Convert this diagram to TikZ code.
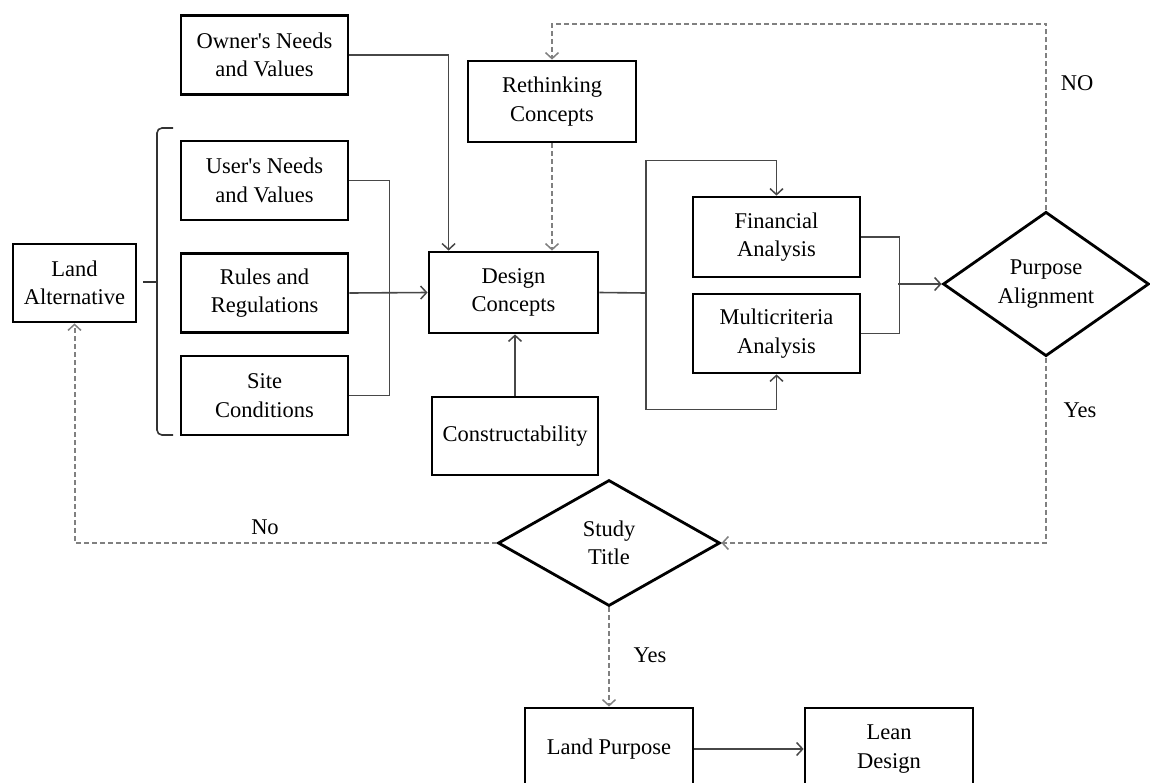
\documentclass[tikz,border=0pt]{standalone}
\usepackage{fontspec}
\setmainfont{Liberation Serif}
\usetikzlibrary{arrows.meta,shapes.geometric}
\begin{document}
\begin{tikzpicture}[x=1pt,y=-1pt,
  txt/.style={font=\fontsize{22.5}{28.5}\selectfont},
  box/.style={txt, draw=black, line width=2.8pt, minimum width=167pt, minimum height=79pt, align=center, inner sep=2pt},
  dec/.style={txt, diamond, draw=black, line width=2.8pt, minimum width=222pt, minimum height=126pt, align=center, inner sep=0pt},
  conn/.style={draw=black!72, line width=1.6pt},
  arr/.style={conn, -{Straight Barb[length=6pt,width=13pt,line width=1.5pt]}},
  dashline/.style={draw=black!50, line width=2pt, dash pattern=on 5pt off 3pt},
  darr/.style={dashline, -{Straight Barb[length=6pt,width=13pt,line width=1.5pt]}},
  lbl/.style={txt, inner sep=1pt}
]
\useasboundingbox (0,0) rectangle (1150,782);

% boxes
\node[box] (owner) at (264.5,55) {Owner\textquotesingle s Needs\\and Values};
\node[box] (user) at (264.5,180.5) {User\textquotesingle s Needs\\and Values};
\node[box] (rules) at (264.5,293) {Rules and\\Regulations};
\node[box] (site) at (264.5,395.5) {Site\\Conditions};
\node[box, minimum width=123pt, minimum height=78pt] (landalt) at (74.5,283) {Land\\Alternative};
\node[box, minimum width=169pt, minimum height=81pt] (design) at (513.5,292.5) {Design\\Concepts};
\node[box, minimum width=168pt, minimum height=81pt] (rethink) at (552,101.5) {Rethinking\\Concepts};
\node[box, minimum width=166pt, minimum height=78pt] (construct) at (515,436) {Constructability};
\node[box, minimum height=80pt] (financial) at (776.5,237) {Financial\\Analysis};
\node[box] (multi) at (776.5,333.5) {Multicriteria\\Analysis};
\node[box, minimum width=168pt, minimum height=82pt] (landpurp) at (609,749) {Land Purpose};
\node[box, minimum width=168pt, minimum height=82pt] (lean) at (889,749) {Lean\\Design};

% decisions
\node[dec, minimum width=206pt] (purpose) at (1046,284) {Purpose\\Alignment};
\node[dec] (study) at (609,543) {Study\\Title};

% brace
\draw[black!80, line width=1.6pt, rounded corners=5pt] (173,128) -- (157,128) -- (157,435) -- (173,435);
\draw[black!80, line width=1.6pt] (143,282) -- (157,282);

% solid connectors
\draw[arr] (owner.east) -| ([xshift=21pt]design.north west);
\draw[conn] (user.east) -- ++(40,0) |- (site.east);
\draw[arr] (rules.east) -- (design.west);
\draw[arr] (construct.north) -- (construct.north |- design.south);
\coordinate (split) at (646,293);
\draw[conn] (design.east) -- (split);
\draw[arr] (split) |- ([yshift=35pt]financial.north) -- (financial.north);
\draw[arr] (split) |- ([yshift=-35pt]multi.south) -- (multi.south);
\draw[conn] (financial.east) -- ++(38,0) |- (multi.east);
\coordinate (merge) at (898,284);
\draw[arr] (merge) -- (purpose.west);
\draw[arr] (landpurp.east) -- (lean.west);

% dashed connectors
\draw[darr] (purpose.north) |- ([yshift=36pt]rethink.north) -- (rethink.north);
\draw[darr] (rethink.south) -- (rethink.south |- design.north);
\draw[darr] (purpose.south) |- (study.east);
\draw[darr] (study.west) -| (landalt.south);
\draw[darr] (study.south) -- (landpurp.north);

% labels
\node[lbl] (lNO) at (1077,83) {NO};
\node[lbl] (lYes1) at (1080,410) {Yes};
\node[lbl] (lNo2) at (265,527) {No};
\node[lbl] (lYes2) at (650,655) {Yes};
\end{tikzpicture}
\end{document}
